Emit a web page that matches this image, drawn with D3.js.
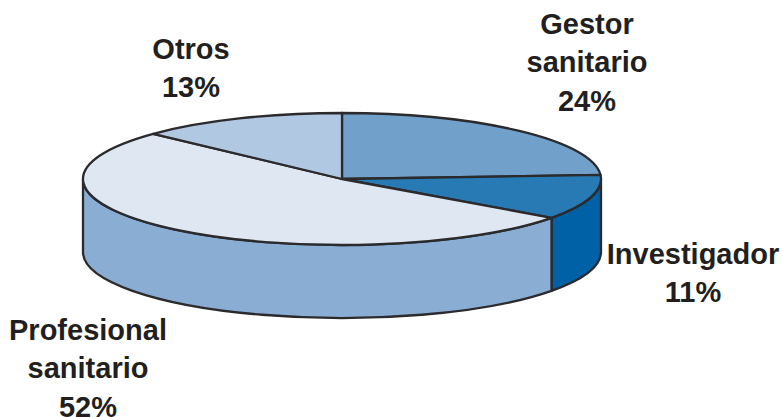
<!DOCTYPE html>
<html>
<head>
<meta charset="utf-8">
<script src="https://cdn.jsdelivr.net/npm/d3@7"></script>
<style>
html, body { margin: 0; padding: 0; background: #fff; }
svg { display: block; }
text { font-family: "Liberation Sans", Arial, sans-serif; font-weight: 700; fill: #231f20; text-anchor: middle; }
</style>
</head>
<body>
<script>
// Pie shares, listed clockwise from twelve o'clock
const categories = ["Gestor sanitario", "Investigador", "Profesional sanitario", "Otros"];
const shares = [24, 11, 52, 13];
const topColors = ["#71a0cb", "#287ab5", "#dee7f2", "#b1c8e3"];
const sideColors = ["#5f8fbe", "#0061a6", "#8aadd4", "#9db8d8"];
const labelLines = [["Gestor", "sanitario", "24%"], ["Investigador", "11%"], ["Profesional", "sanitario", "52%"], ["Otros", "13%"]];
const labelCentres = [[587, 24], [693, 254], [88, 330], [191, 49]];

const width = 783, height = 417;
const cx = 342, cy = 179, rx = 259, ry = 66, depth = 73;
const lineHeight = 38.3;
const stroke = "#2b2a2c";

const svg = d3.select("body").append("svg").attr("width", width).attr("height", height);

const pie = d3.pie().sort(null).value(d => d)(shares);

// Projection of a pie angle onto the tilted ellipse
const px = a => cx + rx * Math.sin(a);
const py = (a, drop = 0) => cy - ry * Math.cos(a) + drop;

// Side walls: only the front half of the rim (angles between 90 and 270 degrees) is visible
const frontStart = Math.PI / 2, frontEnd = 3 * Math.PI / 2;
const walls = pie
  .map((s, i) => ({ i, a0: Math.max(s.startAngle, frontStart), a1: Math.min(s.endAngle, frontEnd) }))
  .filter(w => w.a1 > w.a0);

svg.append("g").selectAll("path").data(walls).join("path")
  .attr("d", w => `M${px(w.a0)},${py(w.a0)}`
    + `A${rx},${ry} 0 0 1 ${px(w.a1)},${py(w.a1)}`
    + `L${px(w.a1)},${py(w.a1, depth)}`
    + `A${rx},${ry} 0 0 0 ${px(w.a0)},${py(w.a0, depth)}Z`)
  .attr("fill", w => sideColors[w.i])
  .attr("stroke", stroke)
  .attr("stroke-width", 2.3)
  .attr("stroke-linejoin", "round");

// Top face: a circular pie squashed into an ellipse, keeping the outline weight even
const arc = d3.arc().innerRadius(0).outerRadius(rx);
svg.append("g")
  .attr("transform", `translate(${cx},${cy}) scale(1,${ry / rx})`)
  .selectAll("path").data(pie).join("path")
  .attr("d", arc)
  .attr("fill", (d, i) => topColors[i])
  .attr("stroke", stroke)
  .attr("stroke-width", 2.3)
  .attr("stroke-linejoin", "round")
  .attr("vector-effect", "non-scaling-stroke");

// Labels, one text element per category
const labels = svg.append("g").selectAll("text").data(categories).join("text")
  .attr("aria-label", d => d)
  .attr("font-size", 29)
  .attr("x", (d, i) => labelCentres[i][0])
  .attr("y", (d, i) => labelCentres[i][1] + 10);

labels.selectAll("tspan").data((d, i) => labelLines[i].map(t => ({ t, x: labelCentres[i][0] }))).join("tspan")
  .attr("x", d => d.x)
  .attr("dy", (d, j) => j === 0 ? 0 : lineHeight)
  .text(d => d.t);
</script>
</body>
</html>
